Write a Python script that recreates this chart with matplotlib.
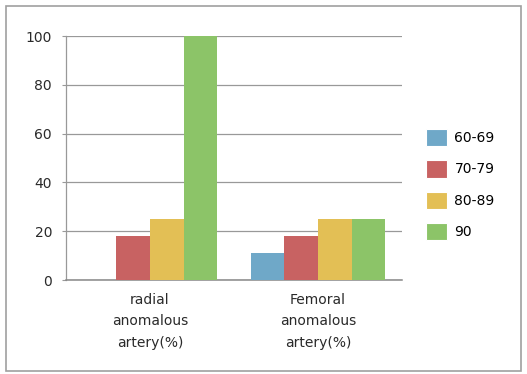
import matplotlib
matplotlib.use("Agg")
import matplotlib.pyplot as plt
import numpy as np
from matplotlib.patches import Rectangle, Patch

categories = ["radial\nanomalous\nartery(%)", "Femoral\nanomalous\nartery(%)"]
series_names = ["60-69", "70-79", "80-89", "90"]
s_60_69 = [0, 11]
s_70_79 = [18, 18]
s_80_89 = [25, 25]
s_90 = [100, 25]
colors = ["#6FA8C8", "#C86262", "#E3BF55", "#8CC468"]
yticks = [0, 20, 40, 60, 80, 100]

plt.rcParams['font.family'] = ['DejaVu Sans']
FS = 10

fig = plt.figure(figsize=(5.27, 3.74), dpi=100)
fig.patches.append(Rectangle((6/527, 1-371/374), 515/527, 365/374, transform=fig.transFigure,
                             fill=False, edgecolor="#A0A0A0", linewidth=1.2))
ax = fig.add_axes([66/527, 1-280/374, 336/527, 244/374])

x = np.arange(len(categories))
w = 0.2
all_series = [s_60_69, s_70_79, s_80_89, s_90]
handles = []
for i, (vals, c, name) in enumerate(zip(all_series, colors, series_names)):
    ax.bar(x + (i - 1.5) * w, vals, width=w, color=c, zorder=3, linewidth=0)
    handles.append(Patch(facecolor=c, edgecolor="white", linewidth=0.8, label=name))

ax.set_xlim(-0.5, 1.5)
ax.set_ylim(0, 100)
ax.set_yticks(yticks)
ax.set_yticklabels([str(v) for v in yticks], fontsize=FS, color="#2a2a2a")
ax.set_xticks(x)
ax.set_xticklabels(categories, fontsize=FS, color="#2a2a2a", linespacing=1.7)
ax.tick_params(axis='x', length=0, pad=9)
ax.tick_params(axis='y', length=3, width=0.8, color="#999999", pad=7)
ax.grid(axis='y', color="#999999", linewidth=0.9, zorder=0)
ax.set_axisbelow(True)
for s in ["top", "right"]:
    ax.spines[s].set_visible(False)
ax.spines["left"].set_color("#999999")
ax.spines["bottom"].set_color("#888888")
ax.spines["left"].set_linewidth(0.9)
ax.spines["bottom"].set_linewidth(1.1)

fig.legend(handles=handles, loc="upper left", bbox_to_anchor=(419/527, 1-122/374),
           frameon=False, fontsize=FS, handlelength=1.55, handleheight=1.55,
           labelspacing=1.0, handletextpad=0.5, borderpad=0)

fig.savefig("out.png", dpi=100)
